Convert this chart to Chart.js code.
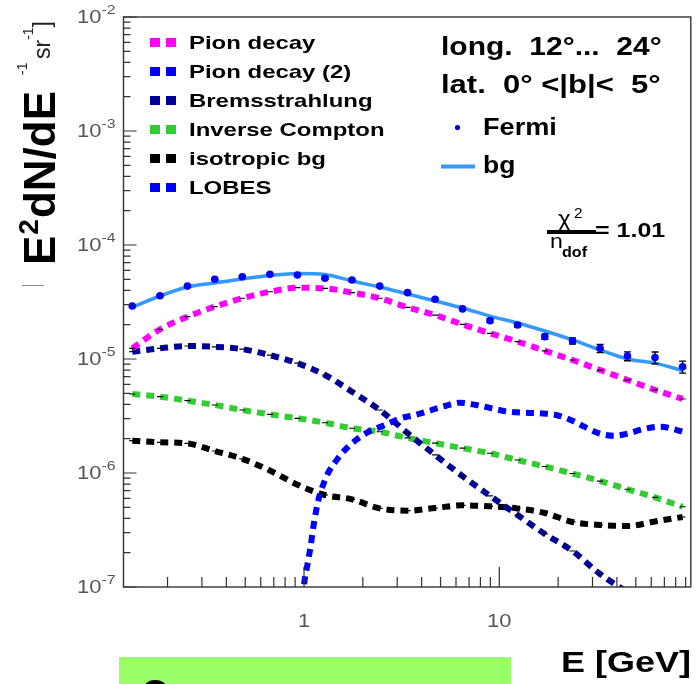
<!DOCTYPE html>
<html>
<head>
<meta charset="utf-8">
<script src="https://cdn.jsdelivr.net/npm/chart.js@4.4.1/dist/chart.umd.min.js"></script>
<style>
  html, body { margin: 0; padding: 0; background: #fff; }
  #wrap { width: 696px; height: 684px; position: relative; }
</style>
</head>
<body>
<div id="wrap"><canvas id="graph"></canvas></div>
<script>
// energies of the Fermi bins (GeV)
const energy = [0.132, 0.183, 0.253, 0.349, 0.483, 0.669, 0.925, 1.28, 1.76, 2.44, 3.39,
                4.69, 6.48, 8.96, 12.4, 17.1, 23.7, 32.8, 45.3, 62.7, 86.8];

const fermiFlux = [2.92e-5, 3.59e-5, 4.36e-5, 5.0e-5, 5.27e-5, 5.53e-5, 5.46e-5, 5.11e-5, 4.93e-5, 4.36e-5, 3.82e-5,
                   3.34e-5, 2.75e-5, 2.17e-5, 1.99e-5, 1.57e-5, 1.44e-5, 1.24e-5, 1.06e-5, 1.03e-5, 8.55e-6];
// relative errors
const fermiErr = [0.02, 0.02, 0.02, 0.02, 0.02, 0.02, 0.02, 0.02, 0.02, 0.02, 0.025,
                  0.03, 0.03, 0.035, 0.04, 0.05, 0.06, 0.08, 0.09, 0.12, 0.12];

const bgFlux = [2.85e-5, 3.57e-5, 4.28e-5, 4.65e-5, 5.04e-5, 5.40e-5, 5.62e-5, 5.51e-5, 4.83e-5, 4.28e-5, 3.72e-5,
                3.23e-5, 2.80e-5, 2.38e-5, 2.07e-5, 1.76e-5, 1.47e-5, 1.20e-5, 1.0e-5, 9.2e-6, 7.9e-6];

const pionFlux = [1.24e-5, 1.82e-5, 2.35e-5, 2.88e-5, 3.41e-5, 3.89e-5, 4.22e-5, 4.17e-5, 3.82e-5, 3.41e-5, 2.84e-5,
                  2.43e-5, 2.01e-5, 1.68e-5, 1.42e-5, 1.18e-5, 9.8e-6, 8.0e-6, 6.55e-6, 5.35e-6, 4.46e-6];

const bremsFlux = [1.16e-5, 1.24e-5, 1.30e-5, 1.28e-5, 1.22e-5, 1.08e-5, 9.2e-6, 7.24e-6, 5.17e-6, 3.57e-6, 2.24e-6,
                   1.44e-6, 9.4e-7, 6.3e-7, 4.28e-7, 2.92e-7, 2.07e-7, 1.30e-7, 9.0e-8, 6.3e-8, 4.4e-8];

const icFlux = [4.93e-6, 4.67e-6, 4.31e-6, 3.95e-6, 3.57e-6, 3.27e-6, 3.02e-6, 2.76e-6, 2.47e-6, 2.30e-6, 2.03e-6,
                1.83e-6, 1.65e-6, 1.49e-6, 1.30e-6, 1.14e-6, 9.9e-7, 8.5e-7, 7.2e-7, 6.1e-7, 5.06e-7];

const isoFlux = [1.92e-6, 1.86e-6, 1.82e-6, 1.56e-6, 1.33e-6, 1.05e-6, 7.9e-7, 6.41e-7, 5.88e-7, 4.89e-7, 4.67e-7,
                 4.93e-7, 5.21e-7, 5.10e-7, 4.89e-7, 4.46e-7, 3.72e-7, 3.50e-7, 3.43e-7, 3.76e-7, 4.11e-7];

const lobesEnergy = [0.975, 1.0, 1.04, 1.08, 1.12, 1.19, 1.26, 1.34, 1.48, 1.63, 1.87, 2.14, 2.61, 3.11, 3.71, 4.50,
                     5.27, 6.28, 7.63, 9.09, 11.1, 13.2, 16.0, 19.5, 23.2, 27.2, 32.4, 38.6, 46.0, 54.9, 66.7, 81.2, 86.8];
const lobesFlux = [6e-8, 1.04e-7, 1.56e-7, 2.26e-7, 3.50e-7, 6.0e-7, 8.1e-7, 1.03e-6, 1.32e-6, 1.61e-6, 1.98e-6, 2.30e-6,
                   2.64e-6, 3.02e-6, 3.23e-6, 3.57e-6, 3.87e-6, 4.14e-6, 3.95e-6, 3.70e-6, 3.45e-6, 3.38e-6, 3.34e-6,
                   3.23e-6, 2.92e-6, 2.55e-6, 2.23e-6, 2.12e-6, 2.23e-6, 2.43e-6, 2.55e-6, 2.38e-6, 2.3e-6];

const legendLabels = ['Pion decay', 'Pion decay (2)', 'Bremsstrahlung', 'Inverse Compton', 'isotropic bg', 'LOBES'];
const legendColors = ['#ff00ff', '#0000ff', '#000099', '#33cc33', '#000000', '#0000ff'];

const xTickLabels = [1, 10];
const yTickExponents = [-2, -3, -4, -5, -6, -7];

const SX = 1.22; // horizontal stretch of the texts
const FONT = '"Liberation Sans", Arial, sans-serif';

const pts = (xs, ys) => xs.map((x, i) => ({ x: x, y: ys[i] }));

function model(label, ys, color, order, xs, marks) {
  return {
    label: label,
    data: pts(xs || energy, ys),
    borderColor: color,
    borderWidth: 6,
    borderDash: [8, 6],
    borderCapStyle: 'butt',
    cubicInterpolationMode: 'monotone',
    pointStyle: 'line',
    pointRadius: marks === false ? 0 : 3,
    pointBorderColor: '#000',
    pointBackgroundColor: '#000',
    pointBorderWidth: 1.2,
    clip: 0,
    order: order
  };
}

function txt(ctx, s, x, y, o) {
  ctx.save();
  ctx.font = (o.bold ? 'bold ' : '') + o.size + 'px ' + FONT;
  ctx.fillStyle = o.color || '#000';
  ctx.textBaseline = o.base || 'alphabetic';
  ctx.textAlign = o.align || 'left';
  const sx = o.sx || SX;
  ctx.translate(x, y);
  ctx.scale(sx, 1);
  ctx.fillText(s, 0, 0);
  const w = ctx.measureText(s).width * sx;
  ctx.restore();
  return w;
}

const decor = {
  id: 'decor',
  afterDatasetDraw(chart, args) {
    // error bars of the Fermi points, under the dots but over the bg line
    if (chart.data.datasets[args.index].label !== 'bg') return;
    const ctx = chart.ctx, xs = chart.scales.x, ys = chart.scales.y;
    ctx.save();
    ctx.strokeStyle = '#000';
    ctx.lineWidth = 1.4;
    energy.forEach((e, i) => {
      const px = xs.getPixelForValue(e);
      const y0 = ys.getPixelForValue(fermiFlux[i] * (1 - fermiErr[i]));
      const y1 = ys.getPixelForValue(fermiFlux[i] * (1 + fermiErr[i]));
      ctx.beginPath();
      ctx.moveTo(px, y0); ctx.lineTo(px, y1);
      ctx.moveTo(px - 3.5, y0); ctx.lineTo(px + 3.5, y0);
      ctx.moveTo(px - 3.5, y1); ctx.lineTo(px + 3.5, y1);
      ctx.stroke();
    });
    ctx.restore();
  },
  afterDraw(chart) {
    const ctx = chart.ctx, ca = chart.chartArea;
    const xs = chart.scales.x, ys = chart.scales.y;
    const grey = '#555';

    // frame
    ctx.save();
    ctx.strokeStyle = '#333';
    ctx.lineWidth = 1.4;
    ctx.strokeRect(ca.left, ca.top, ca.right - ca.left, ca.bottom - ca.top);

    // inward ticks
    ctx.lineWidth = 1.2;
    ctx.beginPath();
    for (let e = -7; e <= -2; e++) {
      for (let k = 1; k <= 9; k++) {
        const v = k * Math.pow(10, e);
        if (v > 1.0001e-2) break;
        const py = ys.getPixelForValue(v);
        ctx.moveTo(ca.left, py);
        ctx.lineTo(ca.left + (k === 1 ? 13 : 7), py);
      }
    }
    for (let e = -1; e <= 1; e++) {
      for (let k = 1; k <= 9; k++) {
        const v = k * Math.pow(10, e);
        if (v < xs.min || v > xs.max) continue;
        const px = xs.getPixelForValue(v);
        ctx.moveTo(px, ca.bottom);
        ctx.lineTo(px, ca.bottom - (k === 1 ? 20 : 10));
      }
    }
    ctx.stroke();
    ctx.restore();

    // tick labels
    yTickExponents.forEach(e => {
      const py = ys.getPixelForValue(Math.pow(10, e));
      const w = txt(ctx, '10', 77, py + 1, { size: 18, base: 'middle', color: grey });
      txt(ctx, '-' + Math.abs(e), 77 + w, py - 7, { size: 13, base: 'middle', color: grey });
    });
    xTickLabels.forEach(v => {
      txt(ctx, String(v), xs.getPixelForValue(v), 622, { size: 18, base: 'middle', align: 'center', color: grey });
    });

    // y axis title
    ctx.save();
    ctx.translate(55, 265);
    ctx.rotate(-Math.PI / 2);
    ctx.fillStyle = '#000';
    ctx.font = 'bold 44px ' + FONT;
    ctx.fillText('E', 0, 0);
    let w = ctx.measureText('E').width;
    ctx.font = 'bold 28px ' + FONT;
    ctx.fillText('2', w + 1, -17);
    w += ctx.measureText('2').width + 2;
    ctx.font = 'bold 44px ' + FONT;
    ctx.fillText('dN/dE', w, 0);
    ctx.fillStyle = '#222';
    ctx.font = '14px ' + FONT;
    ctx.fillText('-1', 190, -28);
    ctx.font = '23px ' + FONT;
    ctx.fillText('sr', 206, -5);
    w = 206 + ctx.measureText('sr').width;
    ctx.font = '14px ' + FONT;
    ctx.fillText('-1', w, -22);
    w += ctx.measureText('-1').width;
    ctx.font = '23px ' + FONT;
    ctx.fillText(']', w, -5);
    ctx.restore();
    ctx.save();
    ctx.strokeStyle = '#888';
    ctx.lineWidth = 1;
    ctx.beginPath();
    ctx.moveTo(22, 285.5); ctx.lineTo(44, 285.5);
    ctx.stroke();
    ctx.restore();

    // x axis title
    txt(ctx, 'E [GeV]', 561, 672, { size: 29, bold: true, sx: 1.24 });

    // legend
    legendLabels.forEach((lab, i) => {
      const by = 49 + 29 * i;
      ctx.fillStyle = legendColors[i];
      ctx.fillRect(150, by - 11, 10, 9);
      ctx.fillRect(166, by - 11, 10, 9);
      txt(ctx, lab, 189, by, { size: 19, bold: true, sx: 1.26 });
    });

    // region text
    txt(ctx, 'long.  12°...  24°', 441, 55, { size: 25, bold: true, sx: 1.2 });
    txt(ctx, 'lat.  0° <|b|<  5°', 441, 93, { size: 25, bold: true, sx: 1.24 });
    ctx.fillStyle = '#0000dd';
    ctx.beginPath();
    ctx.arc(457.5, 127.5, 2.6, 0, Math.PI * 2);
    ctx.fill();
    txt(ctx, 'Fermi', 483, 135, { size: 23, bold: true, sx: 1.18 });
    ctx.save();
    ctx.strokeStyle = '#3399ff';
    ctx.lineWidth = 4;
    ctx.beginPath();
    ctx.moveTo(441, 166.5); ctx.lineTo(475, 166.5);
    ctx.stroke();
    ctx.restore();
    txt(ctx, 'bg', 483, 173, { size: 23, bold: true, sx: 1.15 });

    // chi2 / ndof
    txt(ctx, 'χ', 558, 226, { size: 22, sx: 1.1 });
    txt(ctx, '2', 574, 218, { size: 14, sx: 1.1 });
    ctx.fillStyle = '#000';
    ctx.fillRect(547, 230, 49, 4);
    txt(ctx, 'n', 550, 248, { size: 21, sx: 1.1 });
    txt(ctx, 'dof', 562, 257, { size: 14, bold: true, sx: 1.15 });
    txt(ctx, '= 1.01', 595, 237, { size: 20, bold: true, sx: 1.25 });

    // green banner at the bottom
    ctx.fillStyle = '#99ff66';
    ctx.fillRect(119, 657, 392, 27);
    txt(ctx, 'C', 141, 707, { size: 38, bold: true, sx: 1.0 });
  }
};

const g = document.getElementById('graph');
new Chart(g, {
  type: 'line',
  data: {
    datasets: [
      {
        label: 'Fermi',
        data: pts(energy, fermiFlux),
        showLine: false,
        pointRadius: 3.8,
        pointBackgroundColor: '#0000ff',
        pointBorderColor: '#0000ff',
        pointBorderWidth: 0,
        order: 0
      },
      {
        label: 'bg',
        data: pts(energy, bgFlux),
        borderColor: '#3399ff',
        borderWidth: 3.5,
        cubicInterpolationMode: 'monotone',
        pointRadius: 0,
        clip: 0,
        order: 1
      },
      model('Pion decay', pionFlux, legendColors[0], 2),
      model('LOBES', lobesFlux, legendColors[5], 3, lobesEnergy, false),
      model('Bremsstrahlung', bremsFlux, legendColors[2], 4),
      model('Inverse Compton', icFlux, legendColors[3], 5),
      model('isotropic bg', isoFlux, legendColors[4], 6)
    ]
  },
  options: {
    responsive: true,
    maintainAspectRatio: false,
    animation: false,
    devicePixelRatio: 1,
    layout: { padding: { left: 123.5, top: 17, right: 2, bottom: 97 } },
    scales: {
      x: { type: 'logarithmic', min: 0.119, max: 95.6, display: false },
      y: { type: 'logarithmic', min: 1e-7, max: 1e-2, display: false }
    },
    plugins: {
      legend: { display: false },
      tooltip: { enabled: false }
    }
  },
  plugins: [decor]
});
</script>
</body>
</html>
